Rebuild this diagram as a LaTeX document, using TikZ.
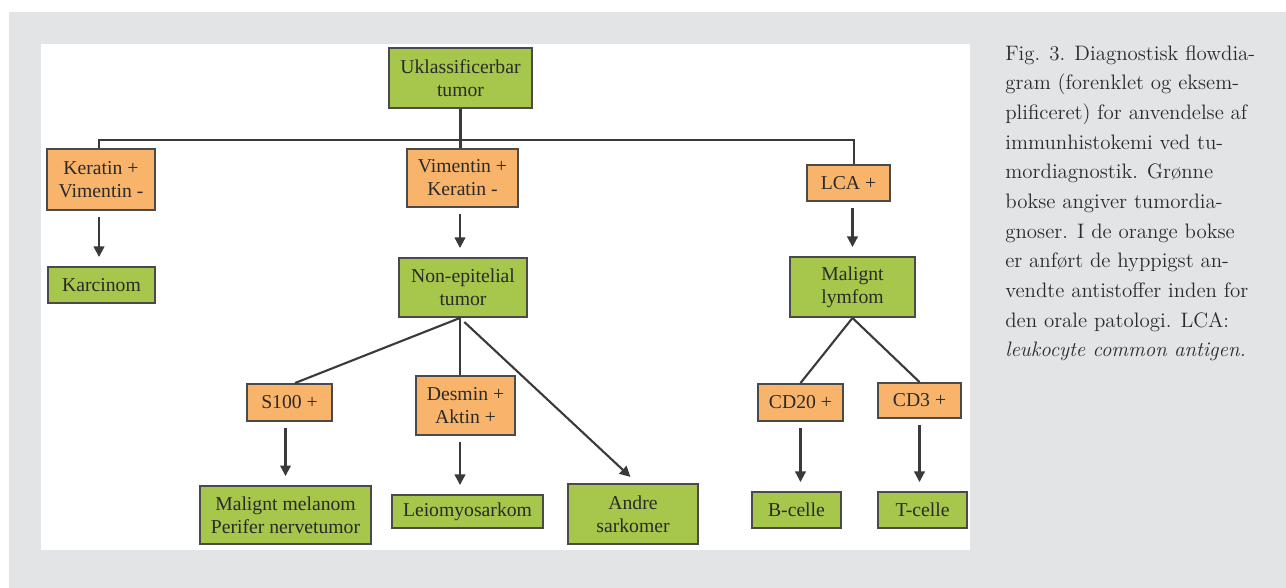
\documentclass[tikz,border=0pt]{standalone}
\usepackage{fontspec}
\newfontfamily\boxfont{Liberation Serif}
\usepackage{xcolor}
\usetikzlibrary{arrows.meta,positioning}
\definecolor{fdInk}{HTML}{2A2A2A}
\definecolor{fdGreen}{HTML}{A6C64C}
\definecolor{fdOrange}{HTML}{F8B46A}
\definecolor{fdEdge}{HTML}{4A4A4A}
\definecolor{fdLine}{HTML}{3A3A3A}
\definecolor{fdPanel}{HTML}{E3E4E6}
\tikzset{
  box/.style={draw=fdEdge,line width=1.1pt,inner sep=0pt,align=center,
              text=fdInk,font=\boxfont\fontsize{11.2pt}{13.1pt}\selectfont},
  diag/.style={box,fill=fdGreen},
  stain/.style={box,fill=fdOrange},
  link/.style={draw=fdLine,line width=1.2pt},
  arr/.style={link,-{Triangle[length=6pt,width=6pt]},shorten <=0.12cm,shorten >=0.18cm},
  captxt/.style={inner sep=0pt,align=left,text=fdInk,font=\fontsize{11.9pt}{16.9pt}\selectfont},
}

\begin{document}
\begin{tikzpicture}[x=0.02cm,y=-0.02cm]
  \useasboundingbox (0,0) rectangle (1286,588);
  \fill[white] (0,0) rectangle (1286,588);
  \fill[fdPanel] (9,12) rectangle (1286,588);
  \fill[white] (41,44) rectangle (970,550);

  % row 1
  \node[diag,minimum width=2.86cm,minimum height=1.2cm] (top) at (460.5,78) {Uklassificerbar\\ tumor};
  % row 2
  \node[stain,minimum width=2.16cm,minimum height=1.22cm] (ker) at (101,179.5) {Keratin +\\ Vimentin -};
  \node[stain,minimum width=2.22cm,minimum height=1.16cm] (vim) at (462.5,178) {Vimentin +\\ Keratin -};
  \node[stain,minimum width=1.66cm,minimum height=0.72cm] (lca) at (848.5,183) {LCA +};
  % row 3
  \node[diag,minimum width=2.14cm,minimum height=0.72cm] (karc) at (101.5,285) {Karcinom};
  \node[diag,minimum width=2.56cm,minimum height=1.18cm] (nonep) at (463,287.5) {Non-epitelial\\ tumor};
  \node[diag,minimum width=2.5cm,minimum height=1.2cm] (lymf) at (852.5,287) {Malignt\\ lymfom};
  % row 4
  \node[stain,minimum width=1.7cm,minimum height=0.74cm] (s100) at (289.5,402.5) {S100 +};
  \node[stain,minimum width=1.98cm,minimum height=1.18cm] (desm) at (465.5,405.5) {Desmin +\\ Aktin +};
  \node[stain,minimum width=1.7cm,minimum height=0.74cm] (cd20) at (800.5,402.5) {CD20 +};
  \node[stain,minimum width=1.66cm,minimum height=0.7cm] (cd3) at (919.5,400.5) {CD3 +};
  % row 5
  \node[diag,minimum width=3.42cm,minimum height=1.16cm] (melan) at (285.5,515) {Malignt melanom\\ Perifer nervetumor};
  \node[diag,minimum width=3.02cm,minimum height=0.66cm] (leio) at (467.5,511.5) {Leiomyosarkom};
  \node[diag,minimum width=2.6cm,minimum height=1.2cm] (andre) at (633,514) {Andre\\ sarkomer};
  \node[diag,minimum width=1.78cm,minimum height=0.72cm] (bcel) at (796.5,510) {B-celle};
  \node[diag,minimum width=1.78cm,minimum height=0.72cm] (tcel) at (922.5,510) {T-celle};

  % connectors
  \coordinate (bus) at (460,140);
  \draw[link] (top.south) -- (top.south |- vim.north);
  \draw[link] ([xshift=-0.04cm]ker.north) |- (bus) -| ([xshift=0.11cm]lca.north);
  \draw[arr] ([xshift=-0.04cm]ker.south) -- ([xshift=-0.04cm]ker.south |- karc.north);
  \draw[arr] ([xshift=-0.05cm]vim.south) -- ([xshift=-0.05cm]vim.south |- nonep.north);
  \draw[arr] (lca.south -| lymf.north) -- (lymf.north);
  \draw[link] ([xshift=-0.06cm]nonep.south) -- ([xshift=0.11cm]s100.north);
  \draw[link] ([xshift=-0.06cm]nonep.south) -- ([xshift=-0.06cm]nonep.south |- desm.north);
  \draw[arr] ([xshift=-0.06cm]nonep.south) -- ([xshift=0.08cm]andre.north);
  \draw[arr] (melan.north |- s100.south) -- (melan.north);
  \draw[arr] ([xshift=-0.06cm]nonep.south |- desm.south) -- ([xshift=-0.06cm]nonep.south |- leio.north);
  \draw[link] (lymf.south) -- (cd20.north);
  \draw[link] (lymf.south) -- (cd3.north);
  \draw[arr] (cd20.south) -- (cd20.south |- bcel.north);
  \draw[arr] (cd3.south) -- (cd3.south |- tcel.north);

  % caption (anchored on its last baseline)
  \node[captxt,anchor=base west] (caption) at (1005,357) {Fig. 3. Diagnostisk flowdia-\\
    gram (forenklet og eksem-\\ plificeret) for anvendelse af\\ immunhistokemi ved tu-\\
    mordiagnostik. Grønne\\ bokse angiver tumordia-\\ gnoser. I de orange bokse\\
    er anført de hyppigst an-\\ vendte antistoffer inden for\\ den orale patologi. LCA:\\
    \textit{leukocyte common antigen.}};
\end{tikzpicture}
\end{document}
